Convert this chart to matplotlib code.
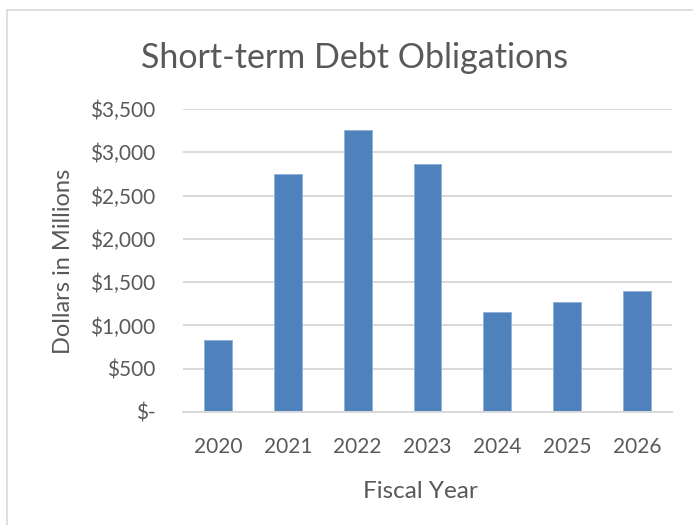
import matplotlib
matplotlib.use("Agg")
import matplotlib.pyplot as plt
from matplotlib.patches import Rectangle

years = ["2020", "2021", "2022", "2023", "2024", "2025", "2026"]
debt = [835, 2746, 3258, 2862, 1158, 1269, 1392]  # $ millions
y_ticks = [0, 500, 1000, 1500, 2000, 2500, 3000, 3500]
y_labels = ["$-", "$500", "$1,000", "$1,500", "$2,000", "$2,500", "$3,000", "$3,500"]

plt.rcParams["font.family"] = ["Lato", "DejaVu Sans"]
text_col = "#595959"
grid_col = "#D9D9D9"

W, H = 693, 525
fig = plt.figure(figsize=(W / 100, H / 100), dpi=100)
ax = fig.add_axes([183 / W, 1 - 412 / H, (672 - 183) / W, (412 - 109) / H])

x = range(len(years))
ax.bar(x, debt, width=0.4, color="#4F81BD", edgecolor="#8FB0DA", linewidth=0.6, zorder=3)

ax.set_xlim(-0.5, len(years) - 0.5)
ax.set_ylim(0, 3500)
ax.set_yticks(y_ticks)
ax.set_yticklabels(y_labels)
ax.set_xticks(list(x))
ax.set_xticklabels(years)
ax.tick_params(axis="both", length=0, labelsize=15, colors=text_col)
ax.tick_params(axis="y", pad=20)
ax.tick_params(axis="x", pad=18)

ax.yaxis.grid(True, color=grid_col, linewidth=1.4, zorder=0)
for s in ["top", "right", "left"]:
    ax.spines[s].set_visible(False)
ax.spines["bottom"].set_color(grid_col)
ax.spines["bottom"].set_linewidth(1.4)
ax.spines["bottom"].set_zorder(4)

# chart frame: only top and left edges show
fig.patches.append(Rectangle((7 / W, -0.1), 1.2, 1 - 10 / H + 0.1, transform=fig.transFigure,
                             fill=False, edgecolor=grid_col, linewidth=1.2))

fig.text(355 / W, 1 - 68 / H, "Short-term Debt Obligations", ha="center", va="baseline",
         fontsize=24.5, color=text_col)
fig.text(420 / W, 1 - 498 / H, "Fiscal Year", ha="center", va="baseline",
         fontsize=17.5, color=text_col)
fig.text(70 / W, 1 - 261 / H, "Dollars in Millions", ha="center", va="baseline",
         rotation=90, rotation_mode="anchor", fontsize=17, color=text_col)

fig.savefig("out.png", dpi=100)
